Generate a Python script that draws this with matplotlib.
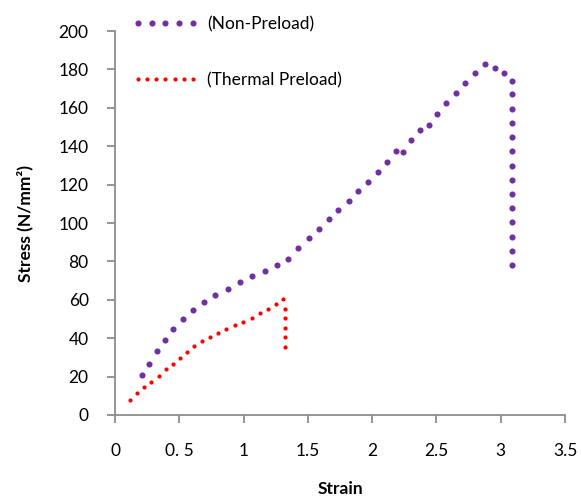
import matplotlib
matplotlib.use("Agg")
import matplotlib.pyplot as plt
from matplotlib.legend_handler import HandlerLine2D

plt.rcParams["font.family"] = ["Lato", "DejaVu Sans"]

# Non-Preload curve (strain, stress)
non_preload_strain = [0.21, 0.264, 0.324, 0.386, 0.451, 0.526, 0.609, 0.692, 0.78, 0.876,
                      0.972, 1.068, 1.163, 1.258, 1.345, 1.426, 1.506, 1.584, 1.661, 1.737,
                      1.817, 1.89, 1.967, 2.043, 2.113, 2.185, 2.237, 2.30, 2.37, 2.442,
                      2.506, 2.574, 2.649, 2.724, 2.80, 2.877, 2.952, 3.022, 3.084,
                      3.084, 3.084, 3.084, 3.084, 3.084, 3.084, 3.084, 3.084, 3.084,
                      3.084, 3.084, 3.084, 3.084]
non_preload_stress = [20.8, 26.7, 33.3, 39.0, 44.6, 49.8, 54.9, 58.7, 62.5, 65.8,
                      69.1, 72.2, 75.0, 78.0, 81.5, 87.2, 92.0, 96.9, 101.9, 106.8,
                      111.5, 116.7, 121.5, 126.7, 132.0, 137.5, 137.1, 143.0, 148.6, 151.0,
                      156.8, 162.3, 167.9, 173.1, 178.3, 182.8, 180.6, 178.3, 174.1,
                      167.0, 159.4, 152.2, 144.6, 137.5, 129.8, 122.4, 115.1, 107.6,
                      100.3, 92.9, 85.6, 78.1]

# Thermal Preload curve (strain, stress)
thermal_strain = [0.117, 0.174, 0.228, 0.283, 0.34, 0.394, 0.449, 0.503, 0.56, 0.617,
                  0.677, 0.739, 0.801, 0.863, 0.931, 0.998, 1.063, 1.125, 1.187, 1.25,
                  1.306, 1.319, 1.319, 1.319, 1.319, 1.319]
thermal_stress = [7.8, 11.3, 14.4, 17.4, 20.5, 23.8, 26.7, 29.9, 32.8, 35.8,
                  38.4, 40.6, 42.7, 44.8, 46.7, 48.4, 50.3, 52.9, 55.4, 58.0,
                  60.2, 55.4, 50.5, 45.5, 40.6, 35.6]

x_ticks = [0, 0.5, 1, 1.5, 2, 2.5, 3, 3.5]
x_tick_labels = ["0", "0. 5", "1", "1.5", "2", "2.5", "3", "3.5"]
y_ticks = list(range(0, 201, 20))

purple = "#7030A0"
red = "#FF0000"
grey = "#8C8C8C"
fs = 12.5

fig = plt.figure(figsize=(5.81, 4.97), dpi=100)
ax = fig.add_axes([0.198, 0.165, 0.7745, 0.7725])

np_line, = ax.plot(non_preload_strain, non_preload_stress, linestyle="none", marker="o",
                   markersize=4.4, color=purple, markeredgewidth=0, label="(Non-Preload)")
th_line, = ax.plot(thermal_strain, thermal_stress, linestyle="none", marker="o",
                   markersize=3.0, color=red, markeredgewidth=0, label="(Thermal Preload)")

ax.set_xlim(0, 3.5)
ax.set_ylim(0, 200)
ax.set_xticks(x_ticks)
ax.set_xticklabels(x_tick_labels)
ax.set_yticks(y_ticks)

for side in ["top", "right"]:
    ax.spines[side].set_visible(False)
for side in ["left", "bottom"]:
    ax.spines[side].set_color(grey)
    ax.spines[side].set_linewidth(1.3)

ax.tick_params(axis="both", direction="out", length=6, width=1.3, color=grey,
               labelsize=fs, labelcolor="black")
ax.tick_params(axis="x", pad=14)
ax.tick_params(axis="y", pad=13)

ax.set_xlabel("Strain", fontsize=fs, fontweight="bold", labelpad=16)
ax.set_ylabel("Stress (N/mm²)", fontsize=fs, fontweight="bold", labelpad=18)

fig.legend(handles=[np_line, th_line], loc="upper left", bbox_to_anchor=(0.228, 0.968),
           frameon=False, fontsize=fs, borderpad=0, borderaxespad=0,
           handlelength=3.8, handletextpad=0.5, labelspacing=2.3,
           handler_map={np_line: HandlerLine2D(numpoints=5),
                        th_line: HandlerLine2D(numpoints=7)})

fig.savefig("out.png", dpi=100)
